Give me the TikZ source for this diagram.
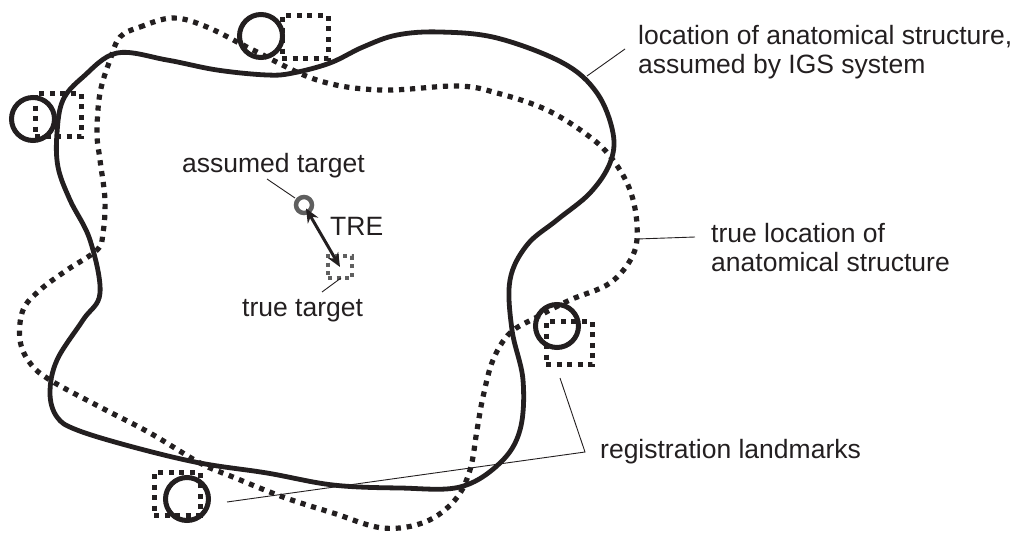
\documentclass[tikz,border=0pt]{standalone}
\usepackage{fontspec}
\setmainfont{Liberation Sans}
\usetikzlibrary{arrows.meta}
\definecolor{ink}{RGB}{35,31,32}
\definecolor{tgtgray}{RGB}{95,95,95}
\begin{document}
\begin{tikzpicture}[x=1pt,y=-1pt,
  solidcurve/.style={draw=ink, line width=4.8pt, line join=round},
  dotcurve/.style={draw=ink, line width=5.2pt, dash pattern=on 5.2pt off 5.8pt},
  lmcircle/.style={draw=ink, circle, line width=5pt, minimum size=43pt, inner sep=0pt},
  lmsquare/.style={draw=ink, rectangle, line width=5pt, dash pattern=on 5pt off 5.5pt, minimum width=46pt, minimum height=43pt, inner sep=0pt},
  lbl/.style={font=\fontsize{26.5}{28.5}\selectfont, inner sep=0pt, align=left, text=ink, anchor=base west},
  leader/.style={draw=ink, line width=0.9pt}
]
\useasboundingbox (0,0) rectangle (1015,533);

% assumed location (solid)
\draw[solidcurve] plot[smooth cycle, tension=0.6] coordinates {
 (117,53) (167,60) (217,70) (267,75) (293,73) (330,63) (363,47) (397,35)
 (440,32) (497,38) (563,63) (597,93) (613,133) (610,163) (590,193) (557,220)
 (527,245) (510,280) (512,330) (523,380) (520,430) (500,463) (460,487)
 (400,488) (333,485) (267,473) (200,463) (133,447) (77,430) (57,417)
 (50,393) (57,360) (83,320) (100,293) (90,240) (70,200) (58,167) (57,133)
 (63,100) (83,77)};

% true location (dotted)
\draw[dotcurve] plot[smooth cycle, tension=0.6] coordinates {
 (120,37) (140,27) (173,18) (207,27) (253,50) (317,80) (380,90) (457,86)
 (497,93) (547,110) (590,137) (613,160) (630,190) (637,225) (633,255)
 (610,283) (570,300) (537,317) (510,333) (493,360) (483,397) (477,430)
 (470,470) (455,500) (425,522) (383,528) (333,513) (283,497) (233,477)
 (200,463) (150,433) (100,407) (50,380) (30,363) (20,340) (23,310)
 (40,290) (67,270) (97,250) (103,233) (105,200) (100,160) (97,133)
 (100,93) (110,60)};

% registration landmarks
\node[lmsquare] (sq1) at (305,37) {};
\node[lmsquare] (sq2) at (58,115) {};
\node[lmsquare] (sq3) at (569,343) {};
\node[lmsquare] (sq4) at (177,494) {};
\node[lmcircle] (c1) at (261,36) {};
\node[lmcircle] (c2) at (33,119) {};
\node[lmcircle] (c3) at (557,326) {};
\node[lmcircle] (c4) at (187,499) {};

% targets
\node[draw=tgtgray, circle, line width=4.5pt, minimum size=16pt, inner sep=0pt] (atarget) at (304,205) {};
\node[draw=tgtgray, rectangle, line width=4pt, dash pattern=on 4pt off 4.5pt, minimum width=24pt, minimum height=22pt, inner sep=0pt] (ttarget) at (340,267) {};
\draw[draw=ink, line width=3pt, shorten <=4pt, {Stealth[length=14pt,width=12pt]}-{Stealth[length=14pt,width=12pt]}] (atarget.center) -- (ttarget.center);

% labels
\node[lbl] (lassumed) at (638,73) {location of anatomical structure,\\assumed by IGS system};
\node[lbl] (ltrue) at (711,271) {true location of\\anatomical structure};
\node[lbl] (lreg) at (600,458) {registration landmarks};
\node[lbl] (latarget) at (182,172) {assumed target};
\node[lbl] (ltre) at (330,235) {TRE};
\node[lbl] (lttarget) at (242,316) {true target};

% leader lines
\coordinate (la1) at (625,49);
\coordinate (la2) at (587,76);
\draw[leader] (la1) -- (la2);
\coordinate (lt1) at (695,237);
\coordinate (lt2) at (637,239);
\draw[leader] (lt1) -- (lt2);
\coordinate (lr0) at (585,452);
\coordinate (lr1) at (560,378);
\coordinate (lr2) at (227,502);
\draw[leader] (lr1) -- (lr0) -- (lr2);
\coordinate (lat1) at (267,179);
\coordinate (lat2) at (295,198);
\draw[leader] (lat1) -- (lat2);
\coordinate (ltt1) at (322,292);
\coordinate (ltt2) at (341,278);
\draw[leader] (ltt1) -- (ltt2);
\end{tikzpicture}
\end{document}
